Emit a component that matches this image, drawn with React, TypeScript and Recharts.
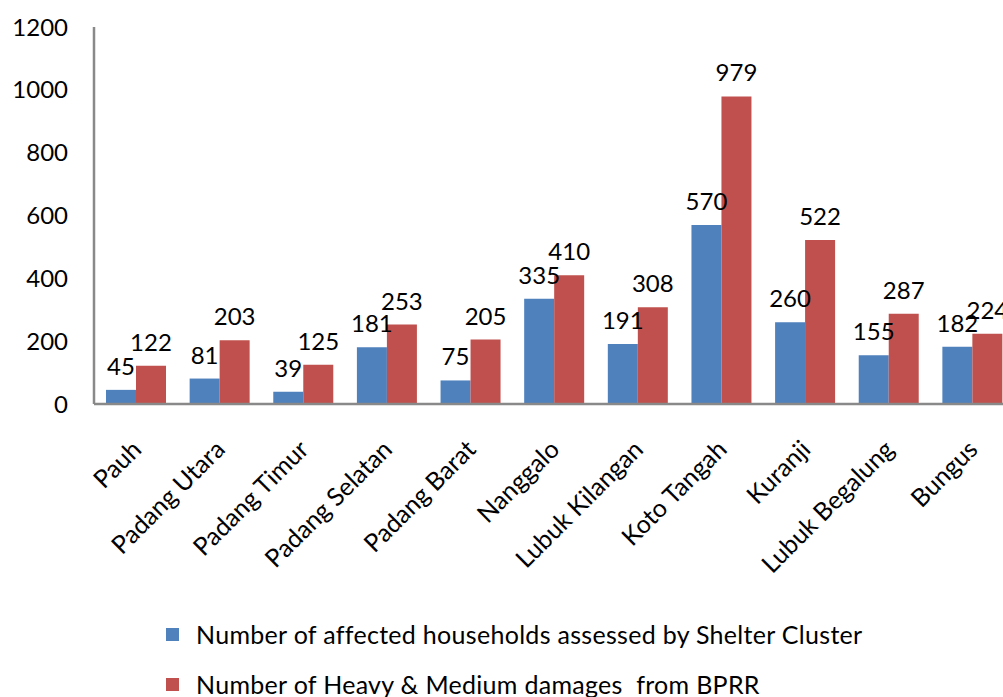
import { Bar, BarChart, LabelList, XAxis, YAxis } from "recharts"

const districts = [
  "Pauh",
  "Padang Utara",
  "Padang Timur",
  "Padang Selatan",
  "Padang Barat",
  "Nanggalo",
  "Lubuk Kilangan",
  "Koto Tangah",
  "Kuranji",
  "Lubuk Begalung",
  "Bungus",
]
const shelterCluster = [45, 81, 39, 181, 75, 335, 191, 570, 260, 155, 182]
const bprrDamages = [122, 203, 125, 253, 205, 410, 308, 979, 522, 287, 224]
const yTicks = [0, 200, 400, 600, 800, 1000, 1200]

const BLUE = "#4F81BD"
const RED = "#C0504D"
const AXIS = "#898989"
const FONT = "Lato, 'Open Sans', sans-serif"

const data = districts.map((name, i) => ({
  name,
  shelter: shelterCluster[i],
  bprr: bprrDamages[i],
}))

const legendItems = [
  { color: BLUE, label: "Number of affected households assessed by Shelter Cluster" },
  { color: RED, label: "Number of Heavy & Medium damages  from BPRR" },
]

// rotated category names, anchored at their end just below the tick
function AngledTick(props: any) {
  const { x, y, payload } = props
  const ax = x + 7
  const ay = y + 39
  return (
    <text
      x={ax}
      y={ay}
      transform={`rotate(-45, ${ax}, ${ay})`}
      textAnchor="end"
      fontSize={25}
      fontFamily={FONT}
      fill="#000"
    >
      {payload.value}
    </text>
  )
}

function LegendBlock() {
  return (
    <div
      style={{
        position: "absolute",
        left: 166,
        top: 609,
        fontFamily: FONT,
        fontSize: 25,
        letterSpacing: 0.3,
        color: "#000",
      }}
    >
      {legendItems.map((it) => (
        <div
          key={it.label}
          style={{ display: "flex", alignItems: "center", height: 50, whiteSpace: "pre" }}
        >
          <span
            style={{
              display: "inline-block",
              width: 13,
              height: 13,
              background: it.color,
              marginRight: 17,
            }}
          />
          {it.label}
        </div>
      ))}
    </div>
  )
}

const labelStyle = { fontSize: 24, fill: "#000", fontFamily: FONT }

export default function App() {
  return (
    <div
      style={{
        position: "absolute",
        left: 0,
        top: 0,
        width: 1003,
        height: 697,
        overflow: "hidden",
        background: "#fff",
      }}
    >
      <BarChart
        width={1020}
        height={697}
        data={data}
        margin={{ top: 27, right: 6, bottom: 0, left: 0 }}
        barGap={0}
        barSize={30}
      >
        <YAxis
          domain={[0, 1200]}
          ticks={yTicks}
          width={94}
          tickLine={false}
          axisLine={{ stroke: AXIS, strokeWidth: 2.5 }}
          tickMargin={20}
          tick={{ fontSize: 24, fill: "#000", fontFamily: FONT }}
        />
        <XAxis
          dataKey="name"
          interval={0}
          height={293}
          tickLine={false}
          axisLine={{ stroke: AXIS, strokeWidth: 2.5 }}
          tick={<AngledTick />}
        />
        <Bar dataKey="shelter" fill={BLUE} isAnimationActive={false}>
          <LabelList dataKey="shelter" position="top" offset={15} style={labelStyle} />
        </Bar>
        <Bar dataKey="bprr" fill={RED} isAnimationActive={false}>
          <LabelList dataKey="bprr" position="top" offset={15} style={labelStyle} />
        </Bar>
      </BarChart>
      <LegendBlock />
    </div>
  )
}
